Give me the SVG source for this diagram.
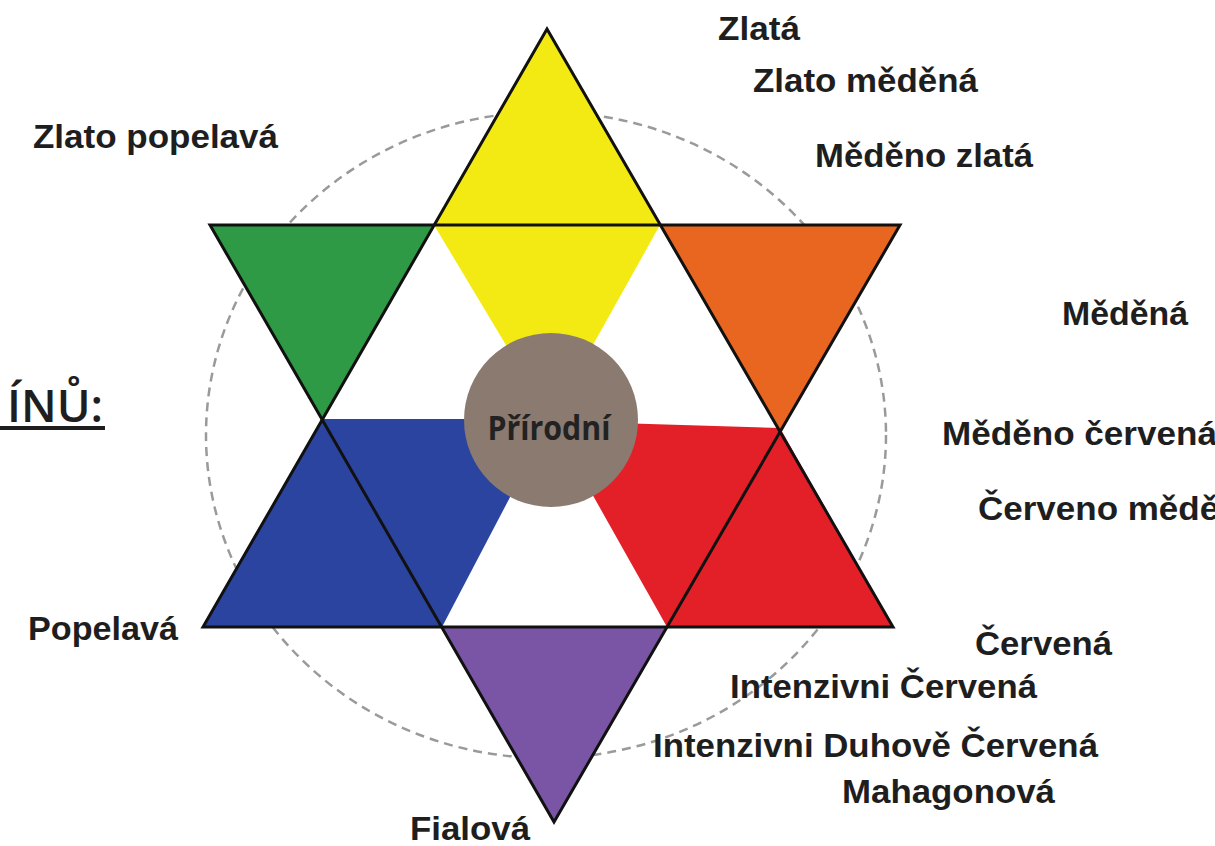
<svg xmlns="http://www.w3.org/2000/svg" width="1215" height="846" viewBox="0 0 1215 846">
<style>
.lbl{font-family:"Liberation Sans",Arial,sans-serif;font-weight:bold;font-size:33px;fill:#1e1e1e;}
.edge{fill:none;stroke:#111;stroke-width:3;stroke-linejoin:miter;}
.ring{fill:none;stroke:#9a9a9a;stroke-width:2.5;stroke-dasharray:9 6;}
</style>
<rect width="1215" height="846" fill="#ffffff"/>
<g id="ring"><ellipse class="ring" cx="546" cy="435" rx="340" ry="323"/></g>
<g id="yellow"><polygon points="547,29 434,225 551,420 660,225" fill="#F3EA14"/></g>
<g id="green"><polygon points="210,225 434,225 322,420" fill="#2F9A45"/></g>
<g id="orange"><polygon points="660,225 900,225 780,431" fill="#E8661F"/></g>
<g id="blue"><polygon points="322,419 551,419 442,627 203,627" fill="#2B44A0"/></g>
<g id="red"><polygon points="551,421 780,428 893,627 667,627" fill="#E32028"/></g>
<g id="purple"><polygon points="442,627 667,627 554,822" fill="#7A55A5"/></g>
<g id="outlines">
<polygon class="edge" points="547,29 893,627 203,627"/>
<polygon class="edge" points="210,225 900,225 554,822"/>
</g>
<g id="center">
<circle cx="551" cy="420" r="87" fill="#8A7A70"/>
<text x="549" y="440" text-anchor="middle" font-family="'Open Sans',sans-serif" font-weight="bold" font-size="34" fill="#222" textLength="123" lengthAdjust="spacingAndGlyphs">Přírodní</text>
</g>
<g id="heading">
<text x="7" y="422" font-family="'Open Sans',sans-serif" font-weight="600" font-size="46" fill="#1e1e1e" textLength="96" lengthAdjust="spacingAndGlyphs">ÍNŮ:</text>
<rect x="0" y="426" width="105" height="4" fill="#1e1e1e"/>
</g>
<g id="labels">
<text class="lbl" x="718" y="40" textLength="82" lengthAdjust="spacingAndGlyphs">Zlatá</text>
<text class="lbl" x="753" y="92" textLength="225" lengthAdjust="spacingAndGlyphs">Zlato měděná</text>
<text class="lbl" x="815" y="167" textLength="218" lengthAdjust="spacingAndGlyphs">Měděno zlatá</text>
<text class="lbl" x="33" y="148" textLength="245" lengthAdjust="spacingAndGlyphs">Zlato popelavá</text>
<text class="lbl" x="1062" y="325" textLength="126" lengthAdjust="spacingAndGlyphs">Měděná</text>
<text class="lbl" x="942" y="445" textLength="275" lengthAdjust="spacingAndGlyphs">Měděno červená</text>
<text class="lbl" x="978" y="520" textLength="282" lengthAdjust="spacingAndGlyphs">Červeno měděná</text>
<text class="lbl" x="28" y="640" textLength="150" lengthAdjust="spacingAndGlyphs">Popelavá</text>
<text class="lbl" x="975" y="655" textLength="137" lengthAdjust="spacingAndGlyphs">Červená</text>
<text class="lbl" x="730" y="698" textLength="307" lengthAdjust="spacingAndGlyphs">Intenzivni Červená</text>
<text class="lbl" x="653" y="757" textLength="445" lengthAdjust="spacingAndGlyphs">Intenzivni Duhově Červená</text>
<text class="lbl" x="842" y="803" textLength="213" lengthAdjust="spacingAndGlyphs">Mahagonová</text>
<text class="lbl" x="410" y="840" textLength="120" lengthAdjust="spacingAndGlyphs">Fialová</text>
</g>
</svg>
